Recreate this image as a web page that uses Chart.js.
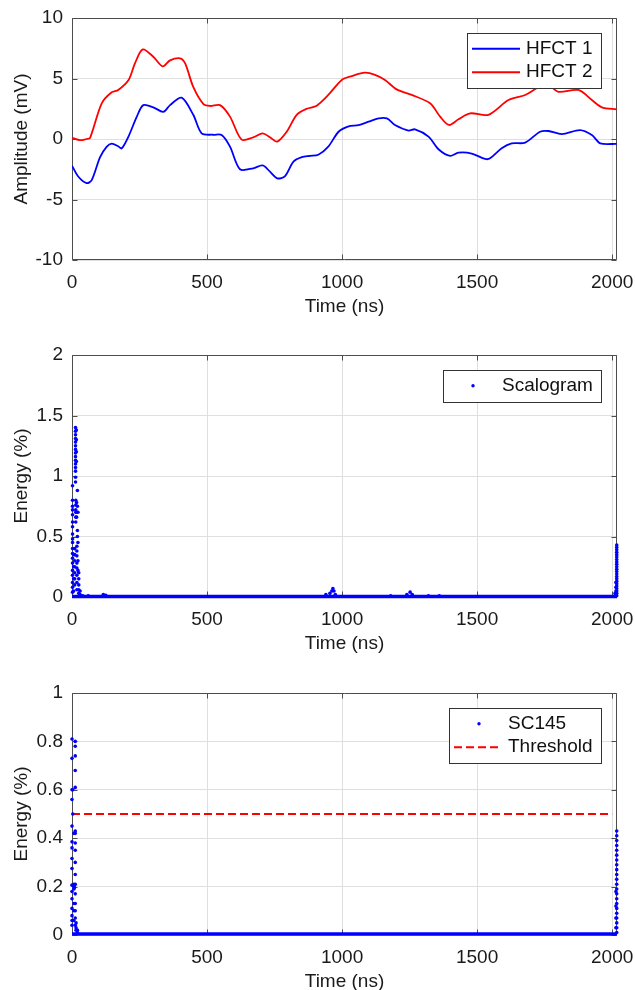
<!DOCTYPE html>
<html><head><meta charset="utf-8">
<script src="https://cdn.jsdelivr.net/npm/chart.js@4/dist/chart.umd.min.js"></script>
<style>
html,body{margin:0;padding:0;background:#fff;overflow:hidden;width:635px;height:990px}
.box{position:absolute;left:0;width:635px;height:320px}
</style></head><body>
<div class="box" style="top:0"><canvas id="c1" width="635" height="320"></canvas></div>
<div class="box" style="top:337px"><canvas id="c2" width="635" height="320"></canvas></div>
<div class="box" style="top:675px"><canvas id="c3" width="635" height="320"></canvas></div>
<script>
// ---------- DATA ----------
const timeTicks = [0, 500, 1000, 1500, 2000];
const timeMax = 2018;

const amplitudeTicks = [-10, -5, 0, 5, 10];
const hfct1Time = [0,23,54,73,104,128,147,171,184,209,240,264,301,338,363,406,449,480,523,554,585,622,671,706,733,760,789,820,851,881,912,949,987,1024,1061,1098,1135,1166,1196,1246,1270,1320,1357,1400,1431,1480,1530,1548,1591,1628,1678,1733,1764,1814,1881,1925,1956,2017];
const hfct1Values = [-2.2,-3.1,-3.65,-3.4,-1.5,-0.65,-0.38,-0.6,-0.78,0.2,1.85,2.8,2.62,2.25,2.8,3.42,2.0,0.47,0.35,0.33,-0.63,-2.5,-2.42,-2.18,-2.7,-3.25,-3.06,-1.87,-1.5,-1.4,-1.3,-0.63,0.6,1.05,1.15,1.43,1.71,1.71,1.16,0.7,0.8,0.2,-0.85,-1.4,-1.13,-1.2,-1.65,-1.6,-0.77,-0.36,-0.3,0.6,0.66,0.41,0.74,0.33,-0.36,-0.4];
const hfct2Time = [0,30,54,67,110,147,171,210,233,262,301,336,363,400,419,449,486,511,548,585,628,671,706,733,760,795,832,869,906,949,999,1036,1085,1122,1159,1202,1258,1326,1363,1396,1431,1474,1542,1616,1678,1727,1764,1801,1875,1925,1962,2017];
const hfct2Values = [0.1,-0.1,0.0,0.1,2.95,3.86,4.05,4.9,6.25,7.4,6.8,6.0,6.5,6.67,6.25,4.3,2.9,2.73,2.8,1.85,-0.05,0.14,0.47,0.14,-0.22,0.6,2.0,2.5,2.75,3.64,4.88,5.2,5.48,5.3,4.88,4.1,3.64,2.95,1.85,1.16,1.63,2.12,2.0,3.22,3.64,4.27,4.45,3.9,4.05,3.22,2.62,2.45];

const scalogramTicks = [0, 0.5, 1, 1.5, 2];
const scalogramPoints = [
  [13,1.40],[13,1.37],[13,1.34],[13,1.31],[13,1.28],[13,1.25],[13,1.22],[13,1.19],[13,1.16],[13,1.13],[13,1.10],[13,1.07],[13,1.04],[13,0.99],[13,0.95],
  [16,1.38],[16,1.30],[16,1.20],[16,1.12],[20,0.88],
  [2,0.92],[2,0.80],[2,0.75],[2,0.72],[2,0.68],[2,0.62],[2,0.58],[2,0.52],[2,0.48],[2,0.45],[2,0.40],[2,0.36],[2,0.32],[2,0.28],[2,0.22],[2,0.18],[2,0.12],[2,0.08],[2,0.04],
  [14,0.80],[14,0.76],[14,0.72],[14,0.70],[14,0.66],[14,0.62],
  [17,0.78],[17,0.70],[17,0.66],[20,0.75],[20,0.55],[20,0.50],
  [22,0.70],[22,0.45],[22,0.30],[22,0.22],
  [10,0.40],[10,0.35],[10,0.30],[10,0.25],[10,0.20],[10,0.15],[10,0.10],
  [18,0.42],[18,0.38],[18,0.34],[18,0.28],[18,0.24],[18,0.18],[18,0.12],[18,0.06],
  [25,0.20],[25,0.15],[25,0.10],[25,0.06],[25,0.03],[30,0.05],[30,0.02],
  [6,0.35],[6,0.25],[6,0.15],[6,0.05],[40,0.01],[60,0.01],
  [116,0.02],[125,0.015],[940,0.02],[955,0.03],[962,0.05],[966,0.07],[970,0.05],[975,0.02],
  [1180,0.01],[1240,0.02],[1252,0.04],[1260,0.02],[1320,0.01],[1360,0.01],
  [2017,0.43],[2017,0.41],[2017,0.39],[2017,0.37],[2017,0.35],[2017,0.33],[2017,0.31],[2017,0.29],[2017,0.27],[2017,0.25],[2017,0.23],[2017,0.21],[2017,0.19],[2017,0.17],[2017,0.15],[2017,0.13],[2017,0.11],[2017,0.09],[2017,0.07],[2017,0.05],[2017,0.03],[2017,0.01],
  [2014,0.12],[2014,0.08],[2014,0.05],[2014,0.02],[2011,0.03],[2011,0.01]
];
const baselineTime = [0,100,200,300,400,500,600,700,800,900,1000,1100,1200,1300,1400,1500,1600,1700,1800,1900,2000,2018];
const baselineValues = [0.004,0.004,0.004,0.004,0.004,0.004,0.004,0.004,0.004,0.004,0.004,0.004,0.004,0.004,0.004,0.004,0.004,0.004,0.004,0.004,0.004,0.004];

const sc145Ticks = [0, 0.2, 0.4, 0.6, 0.8, 1];
const sc145Points = [
  [0,0.81],[0,0.73],[0,0.60],[0,0.56],[0,0.45],[0,0.385],[0,0.36],[0,0.316],[0,0.275],[0,0.206],[0,0.18],[0,0.15],[0,0.11],[0,0.08],[0,0.06],[0,0.04],
  [12,0.80],[12,0.78],[12,0.74],[12,0.68],[12,0.61],[12,0.43],[12,0.42],[12,0.38],[12,0.35],[12,0.30],[12,0.25],[12,0.21],[12,0.17],[12,0.13],[12,0.10],[12,0.07],[12,0.04],
  [7,0.42],[7,0.21],[7,0.20],[7,0.19],[7,0.13],[7,0.10],[7,0.06],[3,0.60],[3,0.50],[9,0.205],[9,0.195],
  [15,0.05],[15,0.03],[15,0.02],[20,0.02],[20,0.01],
  [2017,0.43],[2017,0.41],[2017,0.39],[2017,0.37],[2017,0.35],[2017,0.33],[2017,0.31],[2017,0.29],[2017,0.27],[2017,0.25],[2017,0.23],[2017,0.21],[2017,0.19],[2017,0.17],[2017,0.15],[2017,0.13],[2017,0.11],[2017,0.09],[2017,0.07],[2017,0.05],[2017,0.03],[2017,0.01],
  [2014,0.18],[2014,0.12],[2014,0.07],[2014,0.03]
];
const thresholdTime = [0, 2000];
const thresholdValues = [0.5, 0.5];

// ---------- HELPERS ----------
const FONT = '"Liberation Sans", Arial, sans-serif';
Chart.defaults.font.family = FONT;
Chart.defaults.font.size = 19;
Chart.defaults.color = '#1a1a1a';

const zip = (xs, ys) => xs.map((x, i) => ({x, y: ys[i]}));
const pts = arr => arr.map(p => ({x: p[0], y: p[1]}));

const framePlugin = {
  id: 'frame',
  beforeDatasetsDraw(chart) {
    const {ctx, chartArea: a, scales: {x, y}} = chart;
    const L = Math.round(a.left) + 0.5, R = Math.round(a.right) - 0.5;
    const T = Math.round(a.top) + 0.5, B = Math.round(a.bottom) - 0.5;
    ctx.save();
    ctx.strokeStyle = '#4d4d4d';
    ctx.lineWidth = 1;
    ctx.beginPath();
    ctx.rect(L, T, R - L, B - T);
    x.ticks.forEach(t => {
      const px = Math.round(x.getPixelForValue(t.value)) + 0.5;
      ctx.moveTo(px, B); ctx.lineTo(px, B - 5);
      ctx.moveTo(px, T); ctx.lineTo(px, T + 5);
    });
    y.ticks.forEach(t => {
      const py = Math.round(y.getPixelForValue(t.value)) + 0.5;
      ctx.moveTo(L, py); ctx.lineTo(L + 5, py);
      ctx.moveTo(R, py); ctx.lineTo(R - 5, py);
    });
    ctx.stroke();
    ctx.restore();
  }
};

const legendPlugin = {
  id: 'mlegend',
  afterDraw(chart) {
    const items = chart.data.datasets.filter(d => d.label && !d.noLegend);
    const {ctx, chartArea: a} = chart;
    ctx.save();
    ctx.font = '19px ' + FONT;
    const textW = Math.max(...items.map(d => ctx.measureText(d.label).width));
    const rowH = 23.5;
    const w = Math.round(59 + textW + 8.5);
    const h = Math.round(items.length * rowH + 8);
    const right = Math.round(a.right - 16);
    const left = right - w;
    const top = Math.round(a.top + 15);
    ctx.fillStyle = '#fff';
    ctx.fillRect(left, top, w, h);
    ctx.strokeStyle = '#333';
    ctx.lineWidth = 1;
    ctx.strokeRect(left + 0.5, top + 0.5, w, h);
    items.forEach((d, i) => {
      const cy = top + 4 + rowH * (i + 0.5);
      if (d.showLine) {
        ctx.strokeStyle = d.borderColor;
        ctx.lineWidth = d.borderWidth;
        ctx.setLineDash(d.borderDash || []);
        ctx.beginPath();
        ctx.moveTo(left + 5, cy); ctx.lineTo(left + 53, cy);
        ctx.stroke();
        ctx.setLineDash([]);
      } else {
        ctx.fillStyle = d.pointBackgroundColor;
        ctx.beginPath();
        ctx.arc(left + 30, cy, 1.7, 0, Math.PI * 2);
        ctx.fill();
      }
      ctx.fillStyle = '#111';
      ctx.textBaseline = 'middle';
      ctx.textAlign = 'left';
      ctx.fillText(d.label, left + 59, cy);
    });
    ctx.restore();
  }
};

function makeOptions(yMin, yMax, yTicks, yTitle) {
  return {
    responsive: false,
    animation: false,
    devicePixelRatio: 1,
    layout: {padding: {top: 18, right: 18, left: 0, bottom: 0}},
    plugins: {legend: {display: false}, tooltip: {enabled: false}},
    scales: {
      x: {
        type: 'linear', min: 0, max: timeMax,
        afterBuildTicks: s => { s.ticks = timeTicks.map(v => ({value: v})); },
        afterFit: s => { s.height = 60; s.paddingLeft = 0; s.paddingRight = 0; },
        ticks: {padding: 11, maxRotation: 0, callback: v => String(v), color: '#1a1a1a'},
        grid: {color: '#dfdfdf', drawTicks: false, lineWidth: 1},
        border: {display: false},
        title: {display: true, text: 'Time (ns)', padding: {top: 0, bottom: 2}, color: '#1a1a1a'}
      },
      y: {
        type: 'linear', min: yMin, max: yMax,
        afterBuildTicks: s => { s.ticks = yTicks.map(v => ({value: v})); },
        afterFit: s => { s.width = 72; s.paddingTop = 0; s.paddingBottom = 0; },
        ticks: {padding: 9, callback: v => String(v), color: '#1a1a1a'},
        grid: {color: '#dfdfdf', drawTicks: false, lineWidth: 1},
        border: {display: false},
        title: {display: true, text: yTitle, padding: {top: 10, bottom: 0}, color: '#1a1a1a'}
      }
    }
  };
}

const dotStyle = {showLine: false, pointRadius: 1.8, pointBorderWidth: 0, pointBackgroundColor: '#0000ff', pointBorderColor: '#0000ff', borderColor: '#0000ff', clip: 4};
const baseStyle = {showLine: true, noLegend: true, borderColor: '#0000ff', borderWidth: 3.5, pointRadius: 0, clip: 4};

new Chart(document.getElementById('c1'), {
  type: 'scatter',
  data: {datasets: [
    {label: 'HFCT 1', data: zip(hfct1Time, hfct1Values), showLine: true, borderColor: '#0000ff', borderWidth: 1.8, pointRadius: 0, tension: 0.3},
    {label: 'HFCT 2', data: zip(hfct2Time, hfct2Values), showLine: true, borderColor: '#ff0000', borderWidth: 1.8, pointRadius: 0, tension: 0.3}
  ]},
  options: makeOptions(-10, 10, amplitudeTicks, 'Amplitude (mV)'),
  plugins: [framePlugin, legendPlugin]
});

new Chart(document.getElementById('c2'), {
  type: 'scatter',
  data: {datasets: [
    Object.assign({label: 'baseline', data: zip(baselineTime, baselineValues)}, baseStyle),
    Object.assign({label: 'Scalogram', data: pts(scalogramPoints)}, dotStyle)
  ]},
  options: makeOptions(0, 2, scalogramTicks, 'Energy (%)'),
  plugins: [framePlugin, legendPlugin]
});

new Chart(document.getElementById('c3'), {
  type: 'scatter',
  data: {datasets: [
    Object.assign({label: 'baseline', data: zip(baselineTime, baselineValues)}, baseStyle),
    Object.assign({label: 'SC145', data: pts(sc145Points)}, dotStyle),
    {label: 'Threshold', data: zip(thresholdTime, thresholdValues), showLine: true, borderColor: '#ff0000', borderWidth: 1.8, borderDash: [8, 4], pointRadius: 0}
  ]},
  options: makeOptions(0, 1, sc145Ticks, 'Energy (%)'),
  plugins: [framePlugin, legendPlugin]
});
</script>
</body></html>
